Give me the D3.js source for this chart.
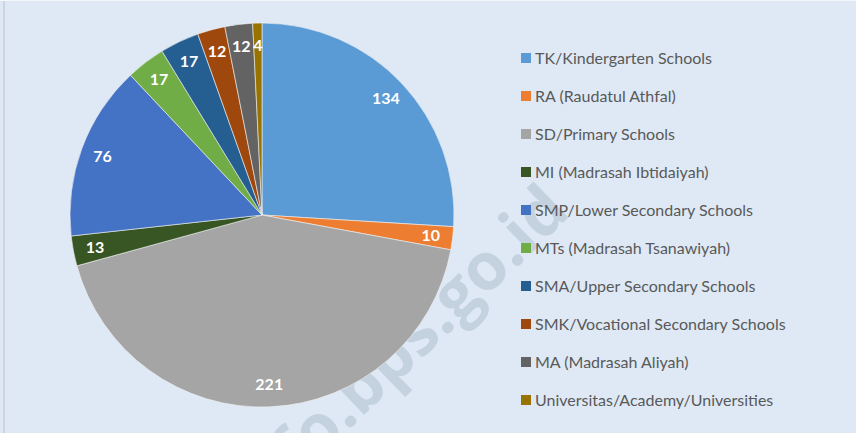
<!DOCTYPE html>
<html>
<head>
<meta charset="utf-8">
<script src="https://cdn.jsdelivr.net/npm/d3@7"></script>
<style>
  html, body { margin: 0; padding: 0; background: #dee9f5; }
  svg { display: block; }
</style>
</head>
<body>
<div id="chart"></div>
<script>
// school counts by level
const categories = [
  'TK/Kindergarten Schools',
  'RA (Raudatul Athfal)',
  'SD/Primary Schools',
  'MI (Madrasah Ibtidaiyah)',
  'SMP/Lower Secondary Schools',
  'MTs (Madrasah Tsanawiyah)',
  'SMA/Upper Secondary Schools',
  'SMK/Vocational Secondary Schools',
  'MA (Madrasah Aliyah)',
  'Universitas/Academy/Universities'
]
const values = [134, 10, 221, 13, 76, 17, 17, 12, 12, 4]
const colors = ['#5b9bd5', '#ed7d31', '#a5a5a5', '#375623', '#4472c4',
  '#70ad47', '#255e91', '#9e480e', '#636363', '#997300']

const width = 856
const height = 433
const cx = 262, cy = 215, radius = 192

const data = categories.map((name, i) => ({name, value: values[i], index: i}))

const color = d3.scaleOrdinal()
  .domain(categories)
  .range(colors)

const svg = d3.create('svg')
  .attr('width', width)
  .attr('height', height)
  .attr('viewBox', [0, 0, width, height])

svg.append('rect')
  .attr('width', width).attr('height', height)
  .attr('fill', '#dee9f5')

// thin frame edge on the left
svg.append('line')
  .attr('x1', 4).attr('x2', 4).attr('y1', 1).attr('y2', height)
  .attr('stroke', '#c9ccd0').attr('stroke-width', 1.5)
svg.append('line')
  .attr('x1', 0).attr('x2', width).attr('y1', 0.5).attr('y2', 0.5)
  .attr('stroke', '#f4f7fb').attr('stroke-width', 1)

// watermark (sits behind the pie)
svg.append('text')
  .attr('transform', 'translate(572,214) rotate(-44)')
  .attr('text-anchor', 'end')
  .attr('font-family', 'Open Sans, sans-serif')
  .attr('font-weight', 'bold')
  .attr('font-size', 66)
  .attr('fill', '#c4d2df')
  .text('info.bps.go.id')

const pie = d3.pie()
  .sort(null)
  .value(d => d.value)

const arc = d3.arc()
  .innerRadius(0)
  .outerRadius(radius)

const labelArc = d3.arc()
  .innerRadius(170)
  .outerRadius(170)

const arcs = pie(data)

const g = svg.append('g')
  .attr('transform', `translate(${cx},${cy})`)

g.selectAll('path')
  .data(arcs)
  .join('path')
  .attr('d', arc)
  .attr('fill', d => color(d.data.name))
  .attr('stroke', '#f2f2f2')
  .attr('stroke-width', 0.6)

g.append('g')
    .attr('fill', 'white')
    .attr('text-anchor', 'middle')
    .attr('font-family', 'Lato, sans-serif')
    .attr('font-weight', 'bold')
    .attr('font-size', 16)
  .selectAll('text')
  .data(arcs)
  .join('text')
    .attr('transform', d => `translate(${labelArc.centroid(d)})`)
    .attr('dy', '0.35em')
    .text(d => d.data.value)

// legend
const legendY = d3.scalePoint()
  .domain(categories)
  .range([58, 400])

const legend = svg.append('g')
  .attr('font-family', 'Lato, sans-serif')
  .attr('font-size', 16)
  .attr('fill', '#595959')

const item = legend.selectAll('g')
  .data(data)
  .join('g')
  .attr('transform', d => `translate(521,${legendY(d.name)})`)

item.append('rect')
  .attr('x', 0).attr('y', -5)
  .attr('width', 10).attr('height', 10)
  .attr('fill', d => color(d.name))

item.append('text')
  .attr('x', 14)
  .attr('dy', '0.35em')
  .text(d => d.name)

document.getElementById('chart').appendChild(svg.node())
</script>
</body>
</html>
